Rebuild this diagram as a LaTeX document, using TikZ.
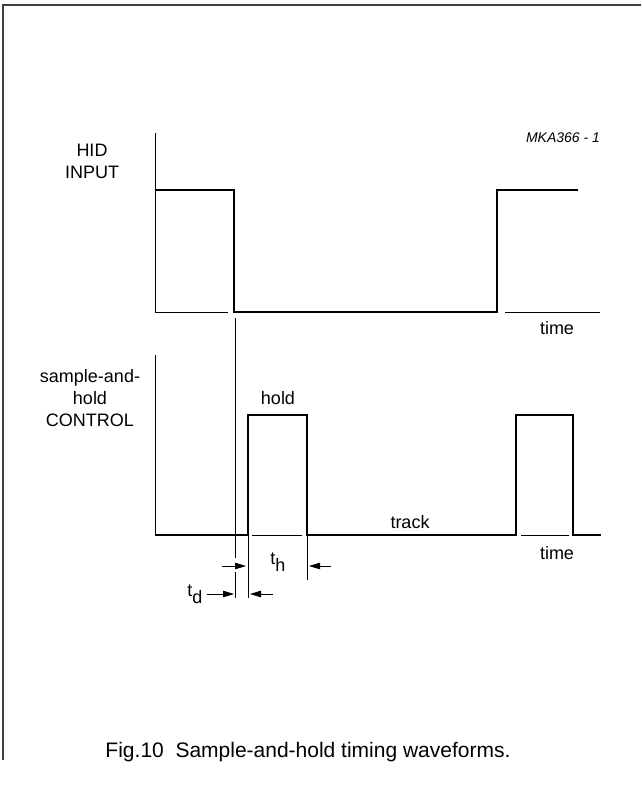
\documentclass[tikz,border=0pt]{standalone}
\usepackage{fontspec}
\setmainfont{Liberation Sans}
\usetikzlibrary{arrows.meta}
\tikzset{
  wave/.style={line width=2.6pt, line join=miter},
  axis/.style={line width=1pt},
  guide/.style={line width=0.9pt},
  dimarrow/.style={line width=0.9pt, -{Triangle[length=11pt,width=6.5pt]}},
  lbl/.style={font=\fontsize{18}{22}\selectfont, align=center, inner sep=0pt},
}
\newcommand{\tsub}[1]{t\raisebox{-7pt}{#1}}
\begin{document}
\begin{tikzpicture}[x=1pt,y=-1pt]
\useasboundingbox (0,0) rectangle (641,812);
\draw[line width=2pt, black!75] (3,760) -- (3,5) -- (641,5);

% HID input
\draw[axis] (155,133) -- (155,312) -- (228,312)
            (505,312) -- (600,312);
\draw[wave] (155,190) -- (234,190) -- (234,312) -- (497,312) -- (497,190) -- (578,190);
\node[lbl] (hid) at (92,161) {HID\\INPUT};
\node[lbl] (time1) at (557,328) {time};
\node[font=\fontsize{14}{16}\selectfont\itshape, inner sep=0pt] (fignum) at (563,138) {MKA366 - 1};

% sample-and-hold control
\draw[axis] (155,355) -- (155,535)
            (252,535) -- (302,535)
            (521,535) -- (569,535);
\draw[wave] (155,535) -- (248,535) -- (248,415) -- (307,415) -- (307,535)
            -- (516,535) -- (516,415) -- (573,415) -- (573,535) -- (601,535);
\node[lbl] (shc) at (90,398) {sample-and-\\hold\\CONTROL};
\node[lbl] (hold) at (278,398) {hold};
\node[lbl] (track) at (410,522) {track};
\node[lbl] (time2) at (557,553) {time};

% timing marks
\coordinate (fall) at (235,318);
\coordinate (rise) at (248,535);
\coordinate (drop) at (307,535);
\draw[guide] (fall) -- (235,558) (235,572) -- (235,598)
             (rise) -- (248,598)
             (drop) -- (307,580);
\node[lbl] (th) at (278,562) {\tsub{h}};
\node[lbl] (td) at (195,594) {\tsub{d}};
\draw[dimarrow] (222,566) -- (246,566);
\draw[dimarrow] (331,566) -- (309,566);
\draw[dimarrow] (td.east) ++(4,0) -- (234,594);
\draw[dimarrow] (273,594) -- (250,594);

\node[font=\fontsize{21}{24}\selectfont, inner sep=0pt] (caption) at (308,752)
  {Fig.10\ \ Sample-and-hold timing waveforms.};
\end{tikzpicture}
\end{document}
